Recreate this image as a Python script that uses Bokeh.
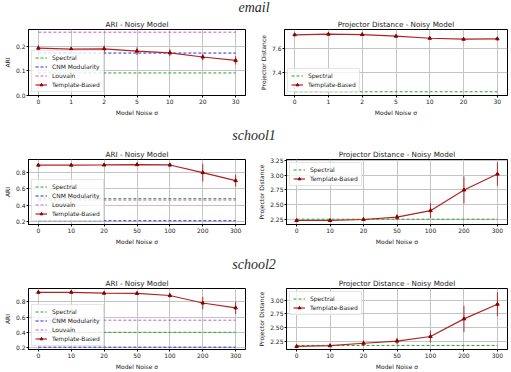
from bokeh.plotting import figure
from bokeh.layouts import column, row
from bokeh.models import (Range1d, FixedTicker, PrintfTickFormatter,
                          Legend, LegendItem, Div, ColumnDataSource)
from bokeh.embed import file_html
from bokeh.resources import INLINE

# ---- data -------------------------------------------------------------
sigma_email = ["0", "1", "2", "5", "10", "20", "30"]
sigma_school = ["0", "10", "20", "50", "100", "200", "300"]

# email
email_ari_template = [0.193, 0.189, 0.190, 0.181, 0.174, 0.157, 0.143]
email_ari_err = [0.013, 0.010, 0.014, 0.016, 0.014, 0.013, 0.017]
email_ari_spectral = 0.092
email_ari_cnm = 0.173
email_ari_louvain = 0.258
email_pd_template = [7.712, 7.717, 7.714, 7.700, 7.683, 7.675, 7.678]
email_pd_err = [0.008, 0.008, 0.008, 0.008, 0.009, 0.009, 0.009]
email_pd_spectral = 7.237

# school1
school1_ari_template = [0.896, 0.896, 0.898, 0.902, 0.898, 0.803, 0.703]
school1_ari_err = [0.010, 0.010, 0.010, 0.012, 0.025, 0.110, 0.073]
school1_ari_spectral = 0.479
school1_ari_cnm = 0.205
school1_ari_louvain = 0.462
school1_pd_template = [2.233, 2.233, 2.250, 2.290, 2.400, 2.750, 3.020]
school1_pd_err = [0.010, 0.010, 0.030, 0.050, 0.130, 0.230, 0.200]
school1_pd_spectral = 2.255

# school2
school2_ari_template = [0.922, 0.922, 0.910, 0.907, 0.880, 0.783, 0.720]
school2_ari_err = [0.010, 0.010, 0.010, 0.012, 0.025, 0.080, 0.080]
school2_ari_spectral = 0.403
school2_ari_cnm = 0.210
school2_ari_louvain = 0.560
school2_pd_template = [2.152, 2.165, 2.210, 2.250, 2.335, 2.660, 2.930]
school2_pd_err = [0.015, 0.030, 0.050, 0.060, 0.110, 0.240, 0.220]
school2_pd_spectral = 2.170

ari_ticks_email = [0.0, 0.1, 0.2]
ari_ticks_school = [0.2, 0.4, 0.6, 0.8]
pd_ticks_email = [7.4, 7.6]
pd_ticks_school1 = [2.25, 2.50, 2.75, 3.00, 3.25]
pd_ticks_school2 = [2.25, 2.50, 2.75, 3.00]

# ---- styling ----------------------------------------------------------
FONT = "DejaVu Sans"
C_SPECTRAL = "#2ca02c"
C_CNM = "#2b2bdc"
C_LOUVAIN = "#c45ec4"
C_TEMPLATE = "#b22222"
C_MARK = "#8b0000"
GRID = "#c4c4c4"


def panel(factors, yrange, ticks, fmt, title, ylabel, baselines, tmpl, err,
          loc, width, height, left, right, top, bottom):
    # noise levels are evenly spaced categories: place them at their index
    xs = list(range(len(factors)))
    p = figure(
        x_range=Range1d(-0.3, len(factors) - 0.7),
        y_range=Range1d(*yrange), width=width, height=height,
        min_border_left=left, min_border_right=right,
        min_border_top=top, min_border_bottom=bottom,
        output_backend="svg", toolbar_location=None, title=title)
    p.title.text_font = FONT
    p.title.text_font_size = "7.2px"
    p.title.text_font_style = "normal"
    p.title.align = "center"
    p.title.standoff = 1
    p.title.text_color = "#222222"
    p.outline_line_color = "black"
    p.outline_line_width = 1
    p.outline_line_alpha = 1
    p.background_fill_color = "white"

    for ax in (p.xaxis[0], p.yaxis[0]):
        ax.axis_label_text_font = FONT
        ax.axis_label_text_font_size = "6px"
        ax.axis_label_text_font_style = "normal"
        ax.axis_label_text_color = "#222222"
        ax.major_label_text_font = FONT
        ax.major_label_text_font_size = "6px"
        ax.major_label_text_color = "#222222"
        ax.major_tick_out = 2
        ax.major_tick_in = 0
        ax.minor_tick_out = 0
        ax.minor_tick_in = 0
        ax.major_label_standoff = 1
        ax.axis_label_standoff = 2
        ax.axis_line_color = "black"
        ax.major_tick_line_color = "black"
    p.xaxis.axis_label = "Model Noise σ"
    p.xaxis.ticker = FixedTicker(ticks=xs)
    p.xaxis.major_label_overrides = {i: f for i, f in zip(xs, factors)}
    p.yaxis.axis_label = ylabel
    p.yaxis.ticker = FixedTicker(ticks=ticks)
    p.yaxis.formatter = PrintfTickFormatter(format=fmt)
    p.xgrid.grid_line_color = GRID
    p.ygrid.grid_line_color = GRID
    p.xgrid.grid_line_width = 1
    p.ygrid.grid_line_width = 1

    items = []
    for label, val, color in baselines:
        r = p.line(x=xs, y=[val] * len(xs), line_color=color,
                   line_width=1, line_dash="3 2")
        items.append(LegendItem(label=label, renderers=[r]))

    src = ColumnDataSource(dict(
        x=xs, y=tmpl,
        lo=[v - e for v, e in zip(tmpl, err)],
        hi=[v + e for v, e in zip(tmpl, err)]))
    rl = p.line("x", "y", source=src, line_color=C_TEMPLATE, line_width=1.2)
    p.segment(x0="x", y0="lo", x1="x", y1="hi", source=src,
              line_color=C_TEMPLATE, line_width=1.1, line_alpha=0.85)
    rm = p.scatter("x", "y", source=src, marker="triangle", size=3.5,
                   fill_color=C_MARK, line_color=C_MARK)
    items.append(LegendItem(label="Template-Based", renderers=[rl, rm]))

    lg = Legend(items=items, location=loc)
    lg.label_text_font = FONT
    lg.label_text_font_size = "6px"
    lg.label_text_color = "#222222"
    lg.glyph_width = 12
    lg.glyph_height = 7
    lg.label_height = 7
    lg.label_standoff = 5
    lg.spacing = 2
    lg.padding = 3
    lg.margin = 3
    lg.border_line_color = "#cccccc"
    lg.border_line_width = 1
    lg.background_fill_alpha = 0.8
    p.add_layout(lg)
    return p


def heading(text, h, pad, lh):
    return Div(text=('<div style="width:508px;text-align:center;'
                     'font-family:\'Liberation Serif\';font-weight:400;'
                     'font-style:italic;font-size:14px;color:#2a2a2a;'
                     f'line-height:{lh}px;padding-top:{pad}px;">{text}</div>'),
               width=511, height=h, margin=0)


def ari_lines(spec, cnm, louv):
    return [("Spectral", spec, C_SPECTRAL), ("CNM Modularity", cnm, C_CNM),
            ("Louvain", louv, C_LOUVAIN)]


# row 1: email
f11 = panel(sigma_email, (0.0, 0.269), ari_ticks_email, "%.1f",
            "ARI - Noisy Model", "ARI",
            ari_lines(email_ari_spectral, email_ari_cnm, email_ari_louvain),
            email_ari_template, email_ari_err, "bottom_left",
            255, 103, 24, 10, 14, 23)
f12 = panel(sigma_email, (7.206, 7.756), pd_ticks_email, "%.1f",
            "Projector Distance - Noisy Model", "Projector Distance",
            [("Spectral", email_pd_spectral, C_SPECTRAL)],
            email_pd_template, email_pd_err, "bottom_left",
            256, 103, 29, 4, 14, 23)

# row 2: school1
f21 = panel(sigma_school, (0.158, 0.966), ari_ticks_school, "%.1f",
            "ARI - Noisy Model", "ARI",
            ari_lines(school1_ari_spectral, school1_ari_cnm, school1_ari_louvain),
            school1_ari_template, school1_ari_err, "bottom_left",
            255, 101, 21, 10, 12, 24)
f22 = panel(sigma_school, (2.165, 3.267), pd_ticks_school1, "%.2f",
            "Projector Distance - Noisy Model", "Projector Distance",
            [("Spectral", school1_pd_spectral, C_SPECTRAL)],
            school1_pd_template, school1_pd_err, "top_left",
            256, 101, 29, 4, 12, 24)

# row 3: school2
f31 = panel(sigma_school, (0.18, 0.971), ari_ticks_school, "%.1f",
            "ARI - Noisy Model", "ARI",
            ari_lines(school2_ari_spectral, school2_ari_cnm, school2_ari_louvain),
            school2_ari_template, school2_ari_err, "bottom_left",
            255, 96, 21, 10, 12, 19)
f32 = panel(sigma_school, (2.095, 3.22), pd_ticks_school2, "%.2f",
            "Projector Distance - Noisy Model", "Projector Distance",
            [("Spectral", school2_pd_spectral, C_SPECTRAL)],
            school2_pd_template, school2_pd_err, "top_left",
            256, 96, 29, 4, 12, 19)

layout = column(
    heading("email", 15, 0, 15),
    row(f11, f12, spacing=0),
    heading("school1", 29, 10, 15),
    row(f21, f22, spacing=0),
    heading("school2", 28, 10, 14),
    row(f31, f32, spacing=0),
    spacing=0,
)

open("out.html", "w").write(file_html(layout, INLINE))
